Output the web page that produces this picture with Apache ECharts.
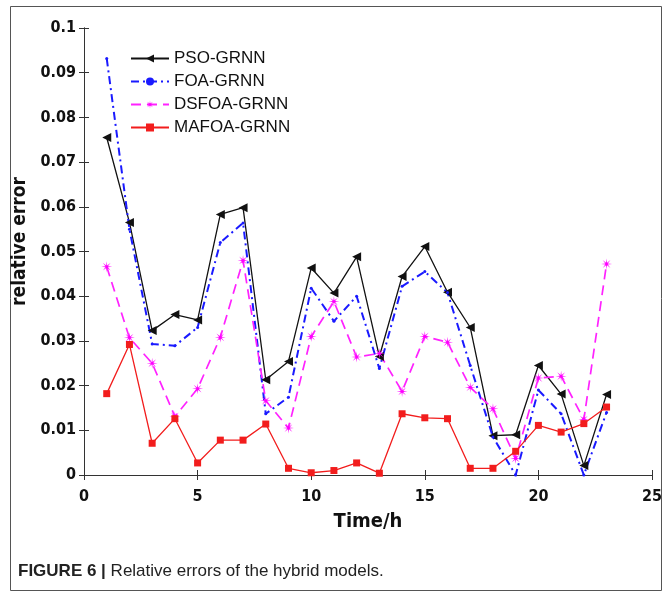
<!DOCTYPE html>
<html>
<head>
<meta charset="utf-8">
<script src="https://cdn.jsdelivr.net/npm/echarts@6/dist/echarts.min.js"></script>
<style>
  html, body { margin: 0; padding: 0; background: #fff; }
  #chart { width: 670px; height: 596px; }
</style>
</head>
<body>
<div id="chart"></div>
<script>
const hours = [1, 2, 3, 4, 5, 6, 7, 8, 9, 10, 11, 12, 13, 14, 15, 16, 17, 18, 19, 20, 21, 22, 23]

const psoGrnn = [0.0755, 0.0565, 0.0323, 0.0359, 0.0347, 0.0583, 0.0598, 0.0213, 0.0254, 0.0463, 0.0407, 0.0488,
  0.0265, 0.0444, 0.0511, 0.0409, 0.0330, 0.0088, 0.0090, 0.0245, 0.0181, 0.0021, 0.0180]
const foaGrnn = [0.0932, 0.0550, 0.0293, 0.0289, 0.0330, 0.0520, 0.0564, 0.0137, 0.0174, 0.0418, 0.0344, 0.0400,
  0.0238, 0.0422, 0.0455, 0.0408, 0.0245, 0.0085, 0.0000, 0.0190, 0.0137, 0.0000, 0.0140]
const dsfoaGrnn = [0.0466, 0.0307, 0.0250, 0.0131, 0.0193, 0.0308, 0.0480, 0.0166, 0.0105, 0.0310, 0.0388, 0.0264,
  0.0272, 0.0187, 0.0310, 0.0297, 0.0196, 0.0148, 0.0037, 0.0217, 0.0221, 0.0124, 0.0472]
const mafoaGrnn = [0.0182, 0.0292, 0.0071, 0.0126, 0.0027, 0.0078, 0.0078, 0.0114, 0.0015, 0.0005, 0.0010, 0.0027,
  0.0004, 0.0137, 0.0128, 0.0126, 0.0015, 0.0015, 0.0053, 0.0111, 0.0096, 0.0115, 0.0152]

const seriesNames = ['PSO-GRNN', 'FOA-GRNN', 'DSFOA-GRNN', 'MAFOA-GRNN']

// matlab-ish '*' marker
const starMarker = 'path://M5,0 L1.11,0.46 L3.54,3.54 L0.46,1.11 L0,5 L-0.46,1.11 L-3.54,3.54 L-1.11,0.46 L-5,0 ' +
  'L-1.11,-0.46 L-3.54,-3.54 L-0.46,-1.11 L0,-5 L0.46,-1.11 L3.54,-3.54 L1.11,-0.46 Z'

const axisFont = "'DejaVu Sans Condensed', 'Liberation Sans', Arial, sans-serif"
const textFont = "'Liberation Sans', Arial, sans-serif"

function pairs(values) {
  return hours.map((h, i) => [h, values[i]])
}

const chart = echarts.init(document.getElementById('chart'))

const boxLine = { show: true, lineStyle: { color: '#333', width: 1 } }
// ticks pointing into the plot box, matlab style
const boxTick = { show: true, inside: true, length: 5, lineStyle: { color: '#333' } }

chart.setOption({
  animation: false,
  backgroundColor: '#fff',
  grid: { left: 84, right: 18, top: 28, bottom: 121 },
  legend: {
    orient: 'vertical',
    left: 130,
    top: 50,
    padding: 0,
    itemWidth: 38,
    itemHeight: 10,
    itemGap: 6,
    data: seriesNames,
    textStyle: { fontFamily: textFont, fontSize: 17, lineHeight: 17, color: '#111' },
  },
  xAxis: [
    {
      type: 'value',
      min: 0,
      max: 25,
      interval: 5,
      axisLine: boxLine,
      axisTick: boxTick,
      splitLine: { show: false },
      name: 'Time/h',
      nameLocation: 'middle',
      nameGap: 37,
      nameTextStyle: { fontFamily: axisFont, fontWeight: 'bold', fontSize: 20, color: '#111' },
      axisLabel: { margin: 14, fontFamily: axisFont, fontWeight: 'bold', fontSize: 16, color: '#111' },
    },
    {
      type: 'value',
      position: 'top',
      min: 0,
      max: 25,
      interval: 5,
      axisLine: boxLine,
      axisTick: boxTick,
      splitLine: { show: false },
      axisLabel: { show: false },
    },
  ],
  yAxis: [
    {
      type: 'value',
      min: 0,
      max: 0.1,
      interval: 0.01,
      axisLine: boxLine,
      axisTick: boxTick,
      splitLine: { show: false },
      name: 'relative error',
      nameLocation: 'middle',
      nameGap: 49,
      nameTextStyle: {
        fontFamily: axisFont, fontWeight: 'bold', fontSize: 19, color: '#111', padding: [0, 0, 0, 20],
      },
      axisLabel: {
        margin: 8,
        fontFamily: axisFont,
        fontWeight: 'bold',
        fontSize: 16,
        color: '#111',
        formatter: (v) => (v === 0 ? '0' : String(+v.toFixed(2))),
      },
    },
    {
      type: 'value',
      position: 'right',
      min: 0,
      max: 0.1,
      interval: 0.01,
      axisLine: boxLine,
      axisTick: boxTick,
      splitLine: { show: false },
      axisLabel: { show: false },
    },
  ],
  series: [
    {
      name: 'PSO-GRNN',
      type: 'line',
      data: pairs(psoGrnn),
      symbol: 'triangle',
      symbolRotate: 90,
      symbolSize: 9,
      itemStyle: { color: '#111' },
      lineStyle: { color: '#111', width: 1.3 },
    },
    {
      name: 'FOA-GRNN',
      type: 'line',
      data: pairs(foaGrnn),
      symbol: 'circle',
      symbolSize: 3,
      itemStyle: { color: '#1a1aff' },
      lineStyle: { color: '#1a1aff', width: 2, type: [8, 4, 2, 4] },
    },
    {
      name: 'DSFOA-GRNN',
      type: 'line',
      data: pairs(dsfoaGrnn),
      symbol: starMarker,
      symbolSize: 11,
      itemStyle: { color: '#ff00ff' },
      lineStyle: { color: '#ff22ff', width: 1.7, type: [10, 6] },
    },
    {
      name: 'MAFOA-GRNN',
      type: 'line',
      data: pairs(mafoaGrnn),
      symbol: 'rect',
      symbolSize: 7,
      itemStyle: { color: '#f21d1d' },
      lineStyle: { color: '#f21d1d', width: 1.3 },
    },
  ],
  graphic: [
    {
      type: 'rect',
      shape: { x: 10.5, y: 6.5, width: 651, height: 584 },
      style: { fill: 'none', stroke: '#555', lineWidth: 1 },
      silent: true,
    },
    {
      type: 'text',
      left: 18,
      top: 563,
      style: {
        text: '{b|FIGURE 6 |} Relative errors of the hybrid models.',
        font: '17px ' + textFont,
        fill: '#222',
        rich: {
          b: { fontWeight: 'bold', fontSize: 17, fontFamily: textFont, fill: '#222' },
        },
      },
    },
  ],
})
</script>
</body>
</html>
